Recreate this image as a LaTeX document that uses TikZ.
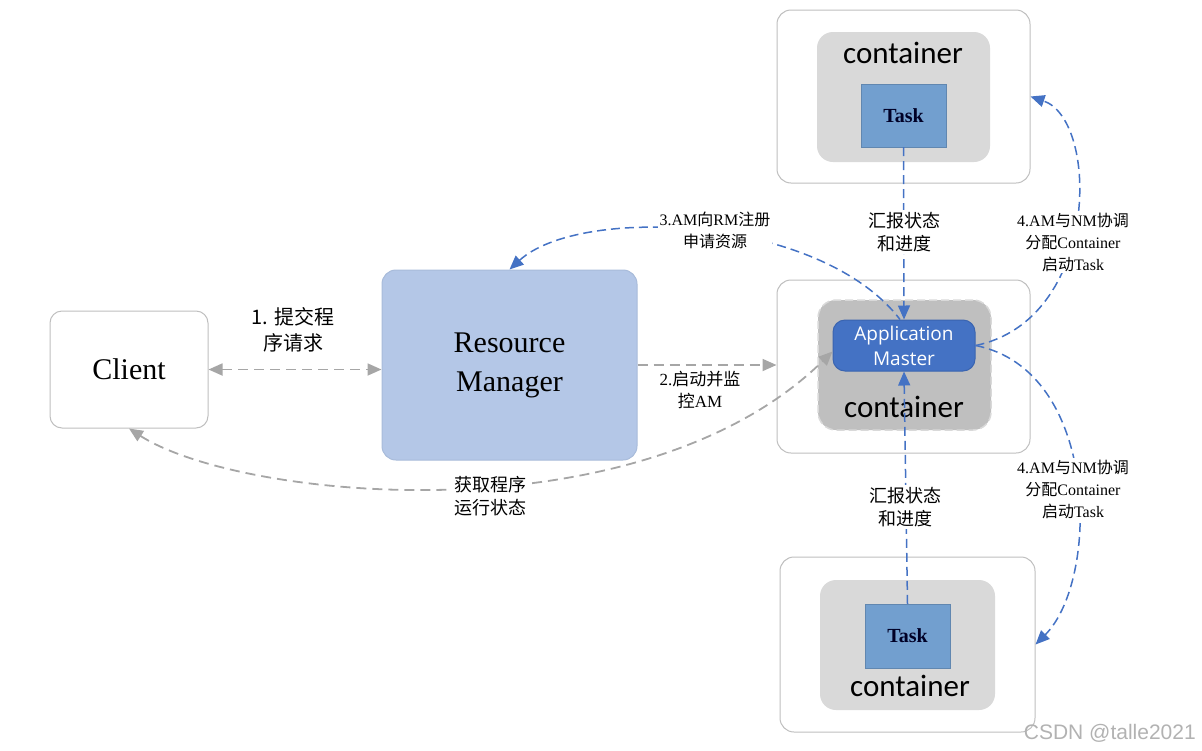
\documentclass[tikz,border=0pt]{standalone}
\usepackage{fontspec}
\setmainfont{Liberation Serif}
\newfontfamily\cjk{Noto Sans CJK SC}
\newfontfamily\carl{Carlito}
\newfontfamily\osans{Open Sans}
\newfontfamily\lsans{Liberation Sans}
\usetikzlibrary{arrows.meta}
\newcommand\zh[1]{{\cjk #1}}
\definecolor{rmfill}{HTML}{B4C7E7}
\definecolor{rmdraw}{HTML}{A8BBDA}
\definecolor{taskfill}{HTML}{729FCF}
\definecolor{amfill}{HTML}{4472C4}
\definecolor{amdraw}{HTML}{3A64B0}
\definecolor{cgray}{HTML}{D9D9D9}
\definecolor{cdark}{HTML}{BFBFBF}
\definecolor{outline}{HTML}{BFBFBF}
\definecolor{garrow}{HTML}{A6A6A6}
\definecolor{barrow}{HTML}{4472C4}
\tikzset{
  tip/.tip={Triangle[length=14pt,width=12pt]},
  outerbox/.style={draw=outline, line width=1pt, rounded corners=14pt, fill=white, minimum width=253pt, minimum height=173pt, inner sep=0pt},
  innerbox/.style={fill=cgray, rounded corners=16pt, minimum width=173pt, minimum height=130pt, inner sep=0pt},
  taskbox/.style={fill=taskfill, draw=taskfill!85!black, line width=0.4pt, minimum width=85pt, minimum height=63pt, inner sep=0pt, text=black!85!blue, font=\bfseries\fontsize{20}{24}\selectfont},
  ctext/.style={font=\carl\fontsize{31}{33}\selectfont, inner sep=0pt},
  garr/.style={draw=garrow, line width=1.8pt, dash pattern=on 10pt off 6pt, -tip},
  barr/.style={draw=barrow, line width=1.5pt, dash pattern=on 9pt off 5pt, -tip},
  lbl/.style={fill=white, align=center, inner sep=2pt, font=\fontsize{16}{22}\selectfont},
}
\begin{document}
\begin{tikzpicture}[x=1pt,y=-1pt]
\useasboundingbox (0,0) rectangle (1202,750);
% boxes
\node[draw=outline, line width=1pt, rounded corners=12pt, minimum width=158pt, minimum height=117pt, inner sep=0pt, font=\fontsize{30}{32}\selectfont] (client) at (129,369.5) {Client};
\node[draw=rmdraw, fill=rmfill, line width=1pt, rounded corners=14pt, minimum width=255pt, minimum height=190pt, inner sep=0pt, align=center, font=\fontsize{30}{39}\selectfont] (rm) at (509.5,365) {Resource\\Manager};
% top
\node[outerbox] (tout) at (903.5,96.5) {};
\node[innerbox] (tin) at (903.5,97) {};
\node[taskbox] (ttask) at (903.5,115.5) {Task};
\node[ctext] (tct) at (903,53) {container};
% middle
\node[outerbox] (mout) at (903.5,366.5) {};
\node[fill=cdark, draw=cgray, line width=1.5pt, dash pattern=on 8pt off 4pt, rounded corners=18pt, minimum width=173pt, minimum height=130pt, inner sep=0pt] (min) at (904.5,365) {};
\node[fill=amfill, draw=amdraw, line width=1pt, rounded corners=12pt, minimum width=142pt, minimum height=51pt, inner sep=0pt, align=center, text=white, font=\osans\fontsize{19}{25}\selectfont] (am) at (904,345.5) {Application\\Master};
\node[ctext] (mct) at (904,407) {container};
% bottom
\node[outerbox, minimum width=255pt, minimum height=175pt] (bout) at (907.5,644.5) {};
\node[innerbox, minimum width=175pt] (bin) at (907.5,645) {};
\node[taskbox, minimum height=64pt] (btask) at (907.5,636) {Task};
\node[ctext] (bct) at (910,686) {container};
% connectors
\draw[garr, tip-tip] (client.east) -- (client.east -| rm.west);
\node[lbl, font=\cjk\fontsize{20}{26}\selectfont] (l1) at (293,330) {1. 提交程\\序请求};
\draw[garr] (rm.east) -- (rm.east -| mout.west);
\node[lbl, font=\fontsize{17}{22}\selectfont] (l2) at (700,390) {2.\zh{启动并监}\\\zh{控}AM};
\draw[garr, tip-tip] (client.south) .. controls (240,500) and (640,540) .. ([yshift=-6pt]am.west);
\node[lbl, font=\fontsize{18}{23}\selectfont] (l5) at (490,496) {\zh{获取程序}\\\zh{运行状态}};
\draw[barr, tip-] (rm.north) .. controls (580,205) and (820,215) .. ([xshift=-4pt]am.north);
\node[lbl] (l3) at (715,230) {3.AM\zh{向}RM\zh{注册}\\\zh{申请资源}};
\draw[barr] (ttask.south) -- (am.north);
\node[lbl, font=\fontsize{18}{23}\selectfont] (l4a) at (904,232) {\zh{汇报状态}\\\zh{和进度}};
\draw[barr] (btask.north) -- (am.south);
\node[lbl, font=\fontsize{18}{23}\selectfont] (l4b) at (905,507) {\zh{汇报状态}\\\zh{和进度}};
\draw[barr] (am.east) .. controls (1100,320) and (1100,120) .. (tout.east);
\node[lbl] (l6a) at (1073,242) {4.AM\zh{与}NM\zh{协调}\\\zh{分配}Container\\\zh{启动}Task};
\draw[barr] (am.east) .. controls (1100,370) and (1100,580) .. (bout.east);
\node[lbl] (l6b) at (1073,489) {4.AM\zh{与}NM\zh{协调}\\\zh{分配}Container\\\zh{启动}Task};
\node[text=black!30, font=\lsans\fontsize{21}{24}\selectfont, inner sep=0pt, anchor=east] (wm) at (1196,733) {CSDN @talle2021};
\end{tikzpicture}
\end{document}
